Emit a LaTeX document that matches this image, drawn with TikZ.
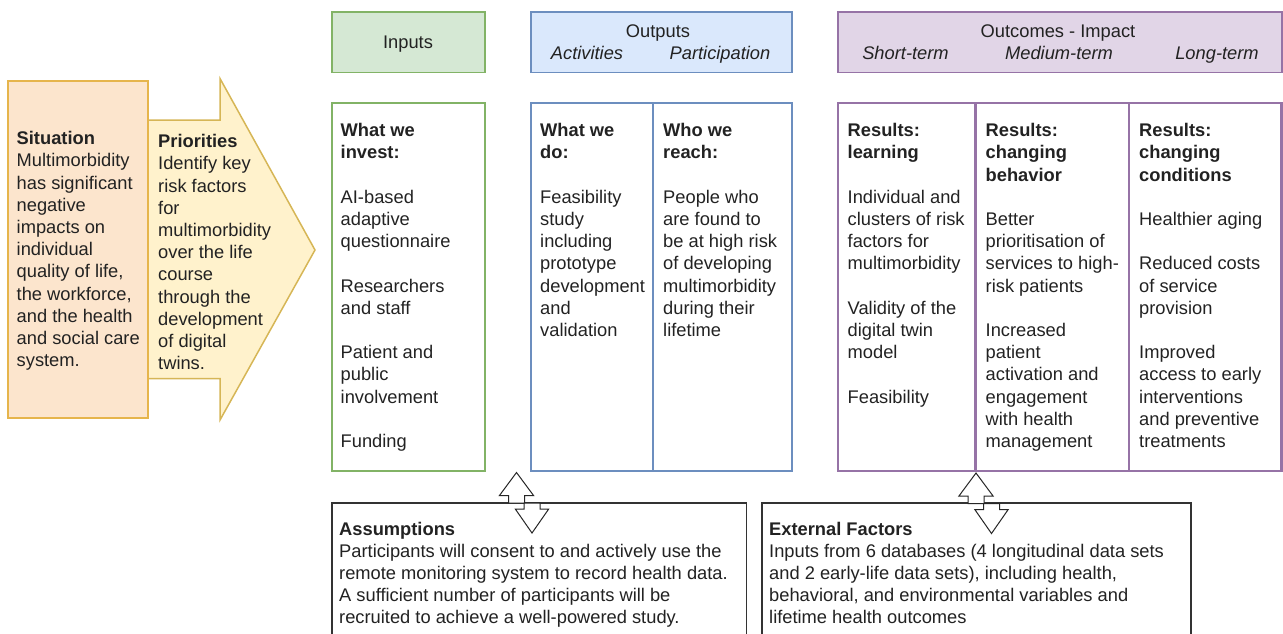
\documentclass[tikz,border=0pt]{standalone}
\usepackage{fontspec}
\setmainfont{Liberation Sans}
\usetikzlibrary{positioning}

\definecolor{ink}{HTML}{222222}
\definecolor{sitfill}{HTML}{FCE5CD}
\definecolor{sitline}{HTML}{E6B54C}
\definecolor{prifill}{HTML}{FFF2CC}
\definecolor{priline}{HTML}{D6B656}
\definecolor{infill}{HTML}{D5E8D4}
\definecolor{inline}{HTML}{82B366}
\definecolor{outfill}{HTML}{DAE8FC}
\definecolor{outline}{HTML}{6C8EBF}
\definecolor{outcfill}{HTML}{E1D5E7}
\definecolor{outcline}{HTML}{9673A6}
\definecolor{noteline}{HTML}{333333}

\newcommand\bodyfont{\fontsize{18.3}{22.2}\selectfont}
\newcommand\emptyline{\\[\baselineskip]}

\tikzset{
  updown/.pic={
    % up arrow, tip at the origin
    \draw[flow] (0,0) -- (17.2,23.2) -- (8,23.2) -- (8,30.5) -- (-8,30.5)
      -- (-8,23.2) -- (-17.2,23.2) -- cycle;
    % down arrow, shifted to the right
    \draw[flow] (7.5,30.5) -- (23.5,30.5) -- (23.5,36.5) -- (32.2,36.5)
      -- (15.5,60.5) -- (-1.2,36.5) -- (7.5,36.5) -- cycle;
  }
}

\begin{document}
\begin{tikzpicture}[x=1pt,y=-1pt,
    every node/.style={inner sep=0pt,text=ink,font=\bodyfont},
    block/.style={anchor=north west,align=left},
    title/.style={anchor=base},
    head/.style={line width=1.8pt},
    frame/.style={draw,line width=2.8pt},
    note/.style={draw=noteline,line width=1.3pt,fill=white},
    flow/.style={draw=black!85,line width=1pt,fill=white,line join=miter}]

  \useasboundingbox (0,0) rectangle (1283,633);
  \clip (0,0) rectangle (1283,633);

  % situation box and priorities arrow
  \draw[fill=prifill,draw=priline,line width=1.5pt] (148,120) -- (220,120) -- (220,78.5)
    -- (315,250) -- (220,420) -- (220,378.5) -- (148,378.5) -- cycle;
  \draw[fill=sitfill,draw=sitline,line width=2pt] (8,81) rectangle (148,418);
  \node[block] (situation) at (16.5,129) {\strut\textbf{Situation}\\Multimorbidity\\has significant\\negative\\impacts on\\individual\\quality of life,\\the workforce,\\and the health\\and social care\\system.};
  \node[block] (priorities) at (158,132) {\strut\textbf{Priorities}\\Identify key\\risk factors\\for\\multimorbidity\\over the life\\course\\through the\\development\\of digital\\twins.};

  % headers
  \draw[head,fill=infill,draw=inline] (332,12) rectangle (485,72.5);
  \node[title] (inputs) at (408,48) {Inputs};
  \draw[head,fill=outfill,draw=outline] (531,12) rectangle (792,72.5);
  \node[title] (outputs) at (658,37.2) {Outputs};
  \node[title] (activities) at (587,59.8) {\itshape Activities};
  \node[title] (participation) at (720,59.8) {\itshape Participation};
  \draw[head,fill=outcfill,draw=outcline] (838,12) rectangle (1282,72.5);
  \node[title] (outcomes) at (1058,37.2) {Outcomes - Impact};
  \node[title] (shortterm) at (905.5,59.8) {\itshape Short-term};
  \node[title] (mediumterm) at (1059,59.8) {\itshape Medium-term};
  \node[title] (longterm) at (1217,59.8) {\itshape Long-term};

  % columns
  \draw[frame,draw=inline] (332,103) rectangle (485,471);
  \draw[frame,draw=outline] (531,103) rectangle (792,471);
  \draw[frame,draw=outline] (653,103) -- (653,471);
  \draw[frame,draw=outcline] (838,103) rectangle (1281.5,471);
  \draw[frame,draw=outcline] (975.5,103) -- (975.5,471);
  \draw[frame,draw=outcline] (1129,103) -- (1129,471);

  \node[block] (invest) at (340.5,121) {\strut\textbf{What we}\\\textbf{invest:}\emptyline AI-based\\adaptive\\questionnaire\emptyline Researchers\\and staff\emptyline Patient and\\public\\involvement\emptyline Funding};
  \node[block] (do) at (540,121) {\strut\textbf{What we}\\\textbf{do:}\emptyline Feasibility\\study\\including\\prototype\\development\\and\\validation};
  \node[block] (reach) at (663,121) {\strut\textbf{Who we}\\\textbf{reach:}\emptyline People who\\are found to\\be at high risk\\of developing\\multimorbidity\\during their\\lifetime};
  \node[block] (learning) at (847.5,121) {\strut\textbf{Results:}\\\textbf{learning}\emptyline Individual and\\clusters of risk\\factors for\\multimorbidity\emptyline Validity of the\\digital twin\\model\emptyline Feasibility};
  \node[block] (behavior) at (985.5,121) {\strut\textbf{Results:}\\\textbf{changing}\\\textbf{behavior}\emptyline Better\\prioritisation of\\services to high-\\risk patients\emptyline Increased\\patient\\activation and\\engagement\\with health\\management};
  \node[block] (conditions) at (1139,121) {\strut\textbf{Results:}\\\textbf{changing}\\\textbf{conditions}\emptyline Healthier aging\emptyline Reduced costs\\of service\\provision\emptyline Improved\\access to early\\interventions\\and preventive\\treatments};

  % assumptions and external factors
  \draw[note] (332,503) rectangle (746.5,650);
  \node[block] (assumptions) at (339,519.3) {\strut\textbf{Assumptions}\\Participants will consent to and actively use the\\remote monitoring system to record health data.\\A sufficient number of participants will be\\recruited to achieve a well-powered study.};
  \draw[note] (762,503) rectangle (1191,650);
  \node[block] (external) at (769,519.3) {\strut\textbf{External Factors}\\Inputs from 6 databases (4 longitudinal data sets\\and 2 early-life data sets), including health,\\behavioral, and environmental variables and\\lifetime health outcomes};

  \coordinate (lowA) at (516.5,472.5);
  \coordinate (lowB) at (976,473);
  \pic at (lowA) {updown};
  \pic at (lowB) {updown};
\end{tikzpicture}
\end{document}
